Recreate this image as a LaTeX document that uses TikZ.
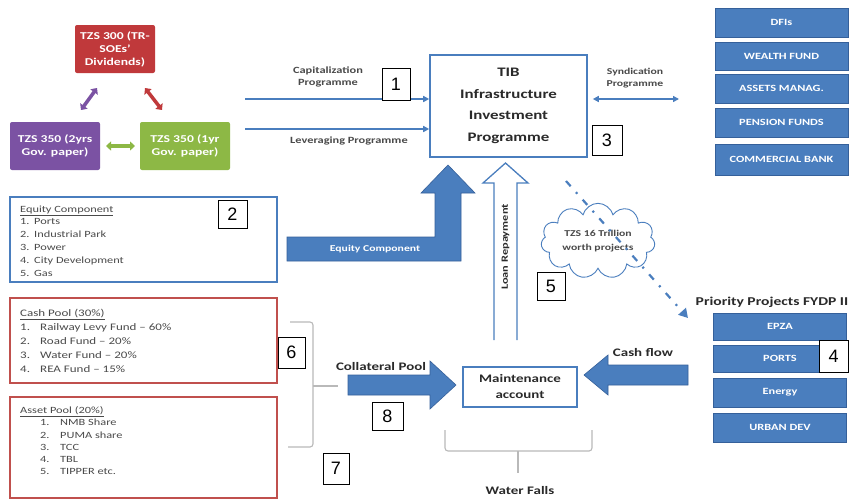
\documentclass[tikz,border=0pt]{standalone}
\usepackage{fontspec}
\setmainfont{Carlito}[FakeStretch=1.3]
\newfontfamily\numfont{Liberation Sans}
\usetikzlibrary{shapes.symbols,arrows.meta}
\definecolor{bl}{HTML}{4A7EBE}
\definecolor{bld}{HTML}{35609A}
\definecolor{redf}{HTML}{C0393B}
\definecolor{purf}{HTML}{7B52A3}
\definecolor{grnf}{HTML}{8DB845}
\definecolor{pool}{HTML}{C0504D}
\definecolor{txt}{HTML}{2A2A2A}
\definecolor{ltxt}{HTML}{4A4A4A}
\tikzset{
  numbox/.style={draw=black, fill=white, line width=0.8pt, inner sep=0pt, font=\numfont\fontsize{18}{18}\selectfont},
  tzsbox/.style={rounded corners=2pt, text=white, align=center, inner sep=1pt, font=\bfseries\fontsize{10.5}{13}\selectfont, minimum width=80pt, minimum height=48pt},
  fundbox/.style={fill=bl, draw=bld, line width=1pt, text=white, font=\bfseries\fontsize{9.5}{10}\selectfont, minimum width=133pt, inner sep=0pt},
  outbox/.style={draw=bl, line width=1.6pt, fill=white},
  poolbox/.style={draw=pool, line width=2pt, fill=white},
  thinarrow/.style={draw=bl, line width=1.6pt, -{Triangle[length=6pt,width=6pt]}},
  lbl/.style={text=ltxt, font=\bfseries\fontsize{9.5}{12}\selectfont, align=center, inner sep=0pt},
  biglbl/.style={text=txt, font=\bfseries\fontsize{12}{13}\selectfont, inner sep=0pt},
  item/.style={text=ltxt, anchor=base west, inner sep=0pt},
  dbl/.style={line width=3.5pt, {Triangle[length=5pt,width=9pt]}-{Triangle[length=5pt,width=9pt]}},
  brk/.style={draw=gray!55, line width=1.1pt, rounded corners=3pt}
}
\begin{document}
\begin{tikzpicture}[x=1pt,y=-1pt]
\useasboundingbox[fill=white] (0,0) rectangle (855,499);

% TZS boxes
\node[tzsbox, fill=redf] (red) at (115,49) {TZS 300 (TR-\\SOEs'\\Dividends)};
\node[tzsbox, fill=purf, minimum width=90pt] (pur) at (55,146) {TZS 350 (2yrs\\Gov. paper)};
\node[tzsbox, fill=grnf, minimum width=90pt] (grn) at (185,146) {TZS 350 (1yr\\Gov. paper)};
\coordinate (pa) at (81,110); \coordinate (pb) at (97,88);
\coordinate (ra) at (145,88); \coordinate (rb) at (162,110);
\coordinate (ga) at (106,146); \coordinate (gb) at (135,146);
\draw[dbl, purf] (pa) -- (pb);
\draw[dbl, redf] (ra) -- (rb);
\draw[dbl, grnf] (ga) -- (gb);

% TIB
\node[outbox, minimum width=157pt, minimum height=102pt, align=center, font=\bfseries\fontsize{13}{21.5}\selectfont, text=txt] (tib) at (508.5,106) {TIB\\Infrastructure\\Investment\\Programme};

\coordinate (cap) at (245,99);
\coordinate (lev) at (245,129);
\draw[thinarrow] (cap) -- (cap -| tib.west);
\draw[thinarrow] (lev) -- (lev -| tib.west);
\node[lbl] (caplbl) at (328,77) {Capitalization\\Programme};
\node[lbl] (levlbl) at (349,141) {Leveraging Programme};

\coordinate (syn) at (679,99);
\draw[draw=bl, line width=1.6pt, {Triangle[length=6pt,width=6pt]}-{Triangle[length=6pt,width=6pt]}, shorten <=5pt] (syn -| tib.east) -- (syn);
\node[lbl, font=\bfseries\fontsize{9}{12}\selectfont] (synlbl) at (635,78) {Syndication\\Programme};

% right fund boxes
\node[fundbox, minimum height=29pt] (dfi) at (781.5,22.5) {DFIs};
\node[fundbox, minimum height=28pt] (wf) at (781.5,56) {WEALTH FUND};
\node[fundbox, minimum height=29pt] (am) at (781.5,88.5) {ASSETS MANAG.};
\node[fundbox, minimum height=29pt] (pf) at (781.5,122.5) {PENSION FUNDS};
\node[fundbox, minimum height=31pt] (cb) at (781.5,159.5) {COMMERCIAL BANK};

% Equity component box
\node[outbox, minimum width=267pt, minimum height=85pt] (eq) at (143.5,239.5) {};
\begin{scope}[font=\fontsize{9.5}{10}\selectfont]
\node[item] (eqt) at (20,212.5) {\underline{Equity Component}};
\foreach \n/\t/\y in {1/Ports/224.5, 2/Industrial Park/237.5, 3/Power/250.5, 4/City Development/263.5, 5/Gas/276.5}{
  \node[item] (eqn\n) at (20,\y) {\n.};
  \node[item] (eqi\n) at (34,\y) {\t};
}
\end{scope}

% Equity bent arrow
\fill[bl] (287,237) -- (435,237) -- (435,193) -- (421,193) -- (448,165) -- (475,193) -- (461,193) -- (461,261) -- (287,261) -- cycle;
\draw[bld, line width=0.6pt] (287,237) -- (435,237) -- (435,193) -- (421,193) -- (448,165) -- (475,193) -- (461,193) -- (461,261) -- (287,261) -- cycle;
\node[text=white, font=\bfseries\fontsize{9}{10}\selectfont, inner sep=0pt] (eqlbl) at (375,249) {Equity Component};

% Loan repayment arrow
\draw[bl, line width=1.3pt, fill=white] (494,340) -- (494,183) -- (483,183) -- (505.5,163) -- (528,183) -- (517,183) -- (517,340);
\node[rotate=90, text=txt, font=\bfseries\fontsize{9.5}{10}\selectfont, inner sep=0pt] (loan) at (505.5,247) {Loan Repayment};

% cloud
\node[cloud, cloud puffs=11, aspect=1.8, draw=bl, line width=0.9pt, fill=white, minimum width=114pt, minimum height=66pt, align=center, text=ltxt, font=\bfseries\fontsize{9}{14}\selectfont, inner sep=0pt] (cloud) at (598,241) {TZS 16 Trillion\\worth projects};
\coordinate (ds) at (566,181);
\coordinate (de) at (688,318);
\draw[bl, line width=2.2pt, dash pattern=on 7pt off 8pt on 2pt off 8pt, -{Triangle[length=9pt,width=10pt]}] (ds) -- (de);

% Priority projects
\node[biglbl] (prio) at (772,302) {Priority Projects FYDP II};
\node[fundbox, minimum height=27pt] (epza) at (780,326.5) {EPZA};
\node[fundbox, minimum height=27pt] (ports) at (780,358.5) {PORTS};
\node[fundbox, minimum height=29pt] (energy) at (780,392.5) {Energy};
\node[fundbox, minimum height=29pt] (urban) at (780,427.5) {URBAN DEV};

% Cash pool
\node[poolbox, minimum width=267pt, minimum height=85pt] (cash) at (143.5,340.5) {};
\begin{scope}[font=\fontsize{10}{11}\selectfont]
\node[item] (cpt) at (20,316.5) {\underline{Cash Pool (30\%)}};
\foreach \n/\t/\y in {1/Railway Levy Fund -- 60\%/330.5, 2/Road Fund -- 20\%/344.5, 3/Water Fund -- 20\%/358.5, 4/REA Fund -- 15\%/372.5}{
  \node[item] (cpn\n) at (20,\y) {\n.};
  \node[item] (cpi\n) at (40,\y) {\t};
}
\end{scope}

% Asset pool
\node[poolbox, minimum width=267pt, minimum height=101pt] (asset) at (143.5,447.5) {};
\begin{scope}[font=\fontsize{9.5}{10}\selectfont]
\node[item] (apt) at (20,413.5) {\underline{Asset Pool (20\%)}};
\foreach \n/\t/\y in {1/NMB Share/425.5, 2/PUMA share/438, 3/TCC/450, 4/TBL/462, 5/TIPPER etc./474}{
  \node[item] (apn\n) at (40,\y) {\n.};
  \node[item] (api\n) at (60,\y) {\t};
}
\end{scope}

% bracket for pools
\draw[brk] (290,322) -- (313,322) -- (313,447) -- (288,447);
\draw[brk] (313,386) -- (338,386);

% Collateral pool arrow
\fill[bl] (348,375) -- (430,375) -- (430,361) -- (456,385) -- (430,409) -- (430,395) -- (348,395) -- cycle;
\draw[bld, line width=0.6pt] (348,375) -- (430,375) -- (430,361) -- (456,385) -- (430,409) -- (430,395) -- (348,395) -- cycle;
\node[biglbl, font=\bfseries\fontsize{11.5}{12}\selectfont] (coll) at (381,367) {Collateral Pool};

% Maintenance account
\node[outbox, minimum width=114pt, minimum height=40pt, align=center, text=txt, font=\bfseries\fontsize{11.5}{16}\selectfont, inner sep=0pt] (maint) at (520,387) {Maintenance\\account};

% Cash flow arrow
\fill[bl] (688,365) -- (608,365) -- (608,355) -- (584,375) -- (608,395) -- (608,385) -- (688,385) -- cycle;
\draw[bld, line width=0.6pt] (688,365) -- (608,365) -- (608,355) -- (584,375) -- (608,395) -- (608,385) -- (688,385) -- cycle;
\node[biglbl, font=\bfseries\fontsize{11.5}{12}\selectfont] (cflbl) at (643,353) {Cash flow};

% Water falls bracket
\draw[brk] (445,430) -- (445,451) -- (592,451) -- (592,430);
\draw[brk] (518,451) -- (518,473);
\node[biglbl, font=\bfseries\fontsize{11.5}{12}\selectfont] (wf2) at (520,490) {Water Falls};

% number boxes
\node[numbox, minimum width=28pt, minimum height=32pt] (n1) at (396,84) {1};
\node[numbox, minimum width=29pt, minimum height=28pt] (n2) at (232.5,214) {2};
\node[numbox, minimum width=30pt, minimum height=30pt] (n3) at (607,140) {3};
\node[numbox, minimum width=29pt, minimum height=32pt] (n4) at (833.5,356) {4};
\node[numbox, minimum width=28pt, minimum height=28pt] (n5) at (551,286) {5};
\node[numbox, minimum width=27pt, minimum height=31pt] (n6) at (291.5,352.5) {6};
\node[numbox, minimum width=26pt, minimum height=31pt] (n7) at (336,468.5) {7};
\node[numbox, minimum width=31pt, minimum height=28pt] (n8) at (387.5,416) {8};
\end{tikzpicture}
\end{document}
